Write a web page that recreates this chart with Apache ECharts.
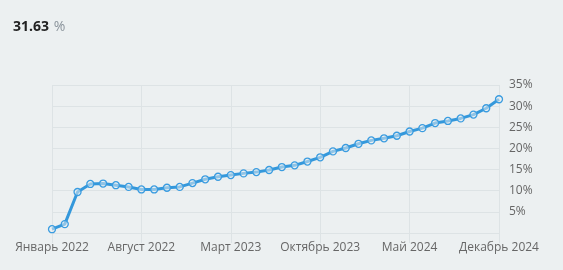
<!DOCTYPE html>
<html>
<head>
<meta charset="utf-8">
<script src="https://cdn.jsdelivr.net/npm/echarts@6/dist/echarts.min.js"></script>
<style>
  html, body { margin: 0; padding: 0; background: #ecf0f1; }
  #chart { width: 563px; height: 270px; }
</style>
</head>
<body>
<div id="chart"></div>
<script>
const monthNames = ["Январь", "Февраль", "Март", "Апрель", "Май", "Июнь",
  "Июль", "Август", "Сентябрь", "Октябрь", "Ноябрь", "Декабрь"];
const years = [2022, 2023, 2024];
const categories = [];
years.forEach((y) => monthNames.forEach((m) => categories.push(m + " " + y)));

const returns = [
  0.9, 2.1, 9.7, 11.6, 11.7, 11.3, 10.9, 10.3, 10.3, 10.7, 10.9, 11.8,
  12.7, 13.3, 13.7, 14.1, 14.4, 14.9, 15.6, 16.0, 16.9, 17.9, 19.3, 20.1,
  21.1, 21.9, 22.4, 23.0, 24.0, 24.8, 26.0, 26.5, 27.1, 28.0, 29.5, 31.63
];
const totalReturn = "31.63";

const gridColor = "#dde3e5";

const chart = echarts.init(document.getElementById("chart"));
chart.setOption({
  backgroundColor: "#ecf0f1",
  animation: false,
  textStyle: { fontFamily: "Open Sans" },
  title: {
    left: 8,
    top: 13,
    text: "{v|" + totalReturn + "} {u|%}",
    textStyle: {
      fontWeight: "normal",
      rich: {
        v: { fontSize: 14, fontWeight: "bold", color: "#222", fontFamily: "Open Sans" },
        u: { fontSize: 14, fontWeight: "normal", color: "#8a939b", fontFamily: "Open Sans" }
      }
    }
  },
  grid: { left: 52, right: 64, top: 85, bottom: 37 },
  xAxis: {
    type: "category",
    data: categories,
    boundaryGap: false,
    axisLine: { show: true, lineStyle: { color: gridColor } },
    axisTick: { show: true, interval: 6, length: 10, lineStyle: { color: gridColor } },
    axisLabel: { interval: 6, color: "#666", fontSize: 12, margin: 9 },
    splitLine: { show: true, interval: 6, lineStyle: { color: gridColor } }
  },
  yAxis: {
    type: "value",
    position: "right",
    min: 0,
    max: 35,
    interval: 5,
    axisLine: { show: false },
    axisTick: { show: false },
    axisLabel: {
      color: "#666",
      fontSize: 12,
      margin: 10,
      formatter: (v) => (v === 0 ? "" : v + "%")
    },
    splitLine: { lineStyle: { color: gridColor } }
  },
  series: [{
    type: "line",
    data: returns,
    symbol: "circle",
    symbolSize: 7,
    lineStyle: { color: "#3498db", width: 3 },
    itemStyle: { color: "rgba(236,240,241,0.5)", borderColor: "#3a9ce0", borderWidth: 1.3 }
  }]
});
</script>
</body>
</html>
